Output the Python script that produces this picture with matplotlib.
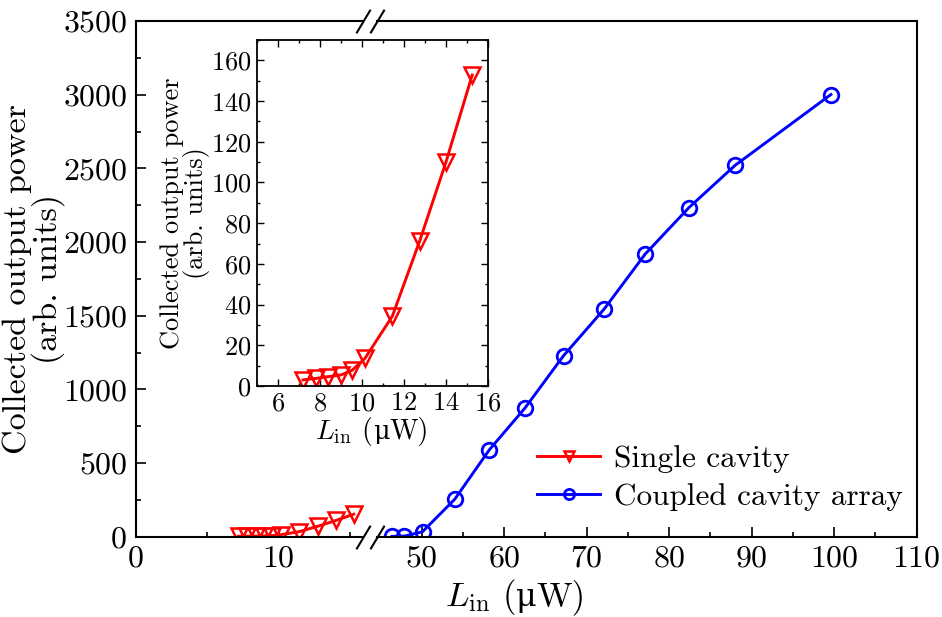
import matplotlib
matplotlib.use('Agg')
import matplotlib.pyplot as plt
from matplotlib.ticker import FixedLocator, MultipleLocator
from matplotlib.offsetbox import TextArea, HPacker, AnchoredOffsetbox

plt.rcParams['font.family'] = ['cmr10', 'DejaVu Serif']
plt.rcParams['mathtext.fontset'] = 'cm'
plt.rcParams['axes.formatter.use_mathtext'] = True

# single cavity (same data in main plot and inset)
single_x = [7.2, 7.8, 8.4, 9.0, 9.55, 10.15, 11.45, 12.75, 14.0, 15.25]
single_y = [3, 3.7, 4.6, 5.4, 7.8, 13.6, 34.3, 71.2, 110, 152.8]

# coupled cavity array
coupled_x = [46.4, 47.9, 50.1, 54.0, 58.2, 62.5, 67.2, 72.1, 77.1, 82.4, 88.0, 99.6]
coupled_y = [2, 4, 34, 254, 590, 872, 1229, 1544, 1919, 2234, 2521, 3001]

red = '#ff0000'
blue = '#0000ff'
lab_y = 'Collected output power\n(arb. units)'


def xlabel_box(fig, x, y, size):
    # cmr10 has no proper mu, so the mu comes from DejaVu Serif
    parts = [TextArea('$L_{\\mathrm{in}}$ (', textprops=dict(fontsize=size, family='cmr10')),
             TextArea('\u03bc', textprops=dict(fontsize=size * 0.92, family='DejaVu Serif')),
             TextArea('W)', textprops=dict(fontsize=size, family='cmr10'))]
    box = HPacker(children=parts, align='baseline', pad=0, sep=0)
    anc = AnchoredOffsetbox(loc='center', child=box, pad=0, borderpad=0, frameon=False,
                            bbox_to_anchor=(x, y), bbox_transform=fig.transFigure)
    fig.add_artist(anc)


fig = plt.figure(figsize=(9.42, 6.17), dpi=100)
W, H = 942.0, 617.0
bot, top = 536.7, 21.0
ax_l = fig.add_axes([135.5 / W, (H - bot) / H, (363 - 135.5) / W, (bot - top) / H])
ax_r = fig.add_axes([377 / W, (H - bot) / H, (916.7 - 377) / W, (bot - top) / H])

ax_l.plot(single_x, single_y, color=red, lw=2.1, marker='v', ms=11,
          mfc='none', mec=red, mew=1.8, label='Single cavity')
ax_r.plot(coupled_x, coupled_y, color=blue, lw=2.1, marker='o', ms=10.5,
          mfc='none', mec=blue, mew=2.0, label='Coupled cavity array')

ax_l.set_xlim(0, 15.9)
ax_r.set_xlim(44.58, 110)
for a in (ax_l, ax_r):
    a.set_ylim(0, 3500)
    for s in a.spines.values():
        s.set_linewidth(1.5)
    a.tick_params(which='both', direction='in', labelsize=23, width=1.2, pad=6)
    a.tick_params(which='major', length=7)
    a.tick_params(which='minor', length=3.5)

ax_l.spines['right'].set_visible(False)
ax_r.spines['left'].set_visible(False)
ax_r.tick_params(axis='y', which='both', left=False, labelleft=False)

ax_l.xaxis.set_major_locator(FixedLocator([0, 10]))
ax_l.xaxis.set_minor_locator(FixedLocator([5, 15]))
ax_r.xaxis.set_major_locator(MultipleLocator(10))
ax_r.xaxis.set_minor_locator(FixedLocator([55, 65, 75, 85, 95, 105]))
ax_l.yaxis.set_major_locator(MultipleLocator(500))
ax_l.yaxis.set_minor_locator(MultipleLocator(250))

ax_l.set_ylabel(lab_y, fontsize=24.5, linespacing=0.95)
ax_l.yaxis.set_label_coords(-0.31, 0.5)
xlabel_box(fig, 515 / W, 1 - 597 / H, 25)

# break marks
kw = dict(marker=[(-0.6, -1), (0.6, 1)], markersize=17, linestyle='none',
          color='k', mec='k', mew=1.5, clip_on=False)
ax_l.plot([1, 1], [0, 1], transform=ax_l.transAxes, **kw)
ax_r.plot([0, 0], [0, 1], transform=ax_r.transAxes, **kw)

# legend
h1, l1 = ax_l.get_legend_handles_labels()
h2, l2 = ax_r.get_legend_handles_labels()
fig.legend(h1 + h2, l1 + l2, loc='center left', bbox_to_anchor=(521.7 / W, 1 - 478 / H),
           frameon=False, fontsize=22.5, borderpad=0, handlelength=2.0,
           handletextpad=0.45, labelspacing=0.3, markerscale=0.7)

# inset
ax_in = fig.add_axes([256.7 / W, (H - 386) / H, (488 - 256.7) / W, 346 / H])
ax_in.plot(single_x, single_y, color=red, lw=2.1, marker='v', ms=11,
           mfc='none', mec=red, mew=1.8)
ax_in.set_xlim(5, 16)
ax_in.set_ylim(0, 170)
ax_in.xaxis.set_major_locator(MultipleLocator(2))
ax_in.xaxis.set_minor_locator(MultipleLocator(1))
ax_in.yaxis.set_major_locator(MultipleLocator(20))
ax_in.yaxis.set_minor_locator(MultipleLocator(10))
ax_in.tick_params(which='both', direction='in', top=True, right=True,
                  labelsize=19, width=1.0, pad=4)
ax_in.tick_params(which='major', length=5)
ax_in.tick_params(which='minor', length=2.5)
for s in ax_in.spines.values():
    s.set_linewidth(1.3)
xlabel_box(fig, 372 / W, 1 - 432 / H, 20)
ax_in.set_ylabel(lab_y, fontsize=19, linespacing=0.95)
ax_in.yaxis.set_label_coords(-0.2, 0.5)

fig.savefig('out.png', dpi=100)
